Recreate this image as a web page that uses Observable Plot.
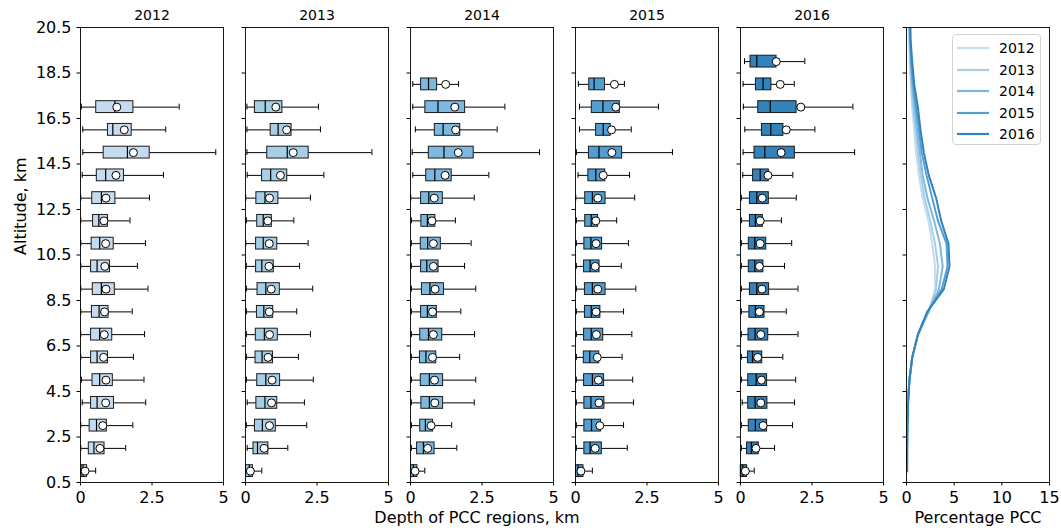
<!DOCTYPE html>
<html>
<head>
<meta charset="utf-8">
<script src="https://cdn.jsdelivr.net/npm/d3@7"></script>
<script src="https://cdn.jsdelivr.net/npm/@observablehq/plot@0.6"></script>
<style>
  body { margin: 0; background: white; }
  #chart { position: relative; width: 1061px; height: 531px; overflow: hidden; font-family: "DejaVu Sans", sans-serif; }
  #chart > svg { position: absolute; top: 0; }
  #legend { position: absolute; left: 952px; top: 34px; width: 89px; height: 111px; border: 1px solid #d3d3d3; border-radius: 4px; background: rgba(255,255,255,0.85); box-sizing: border-box; }
  #legend .row { position: absolute; left: 0; height: 20px; display: flex; align-items: center; }
  #legend .row span { font-size: 14px; margin-left: 10px; color: #000; }
</style>
</head>
<body>
<div id="chart"></div>
<script>
// ---------------- data ----------------
const years = [2012, 2013, 2014, 2015, 2016];
const yearColors = ["#c6dbef", "#a6cee4", "#7db8de", "#519ed2", "#3182bd"];
const altitudeTicks = [0.5, 2.5, 4.5, 6.5, 8.5, 10.5, 12.5, 14.5, 16.5, 18.5, 20.5];
const depthTicks = [0, 2.5, 5];
const percentTicks = [0, 5, 10, 15];

// rows: [altitude, whiskerLow, q1, median, q3, whiskerHigh, mean]
const box2012 = [
  [1, 0.00, 0.04, 0.09, 0.23, 0.53, 0.16],
  [2, 0.01, 0.29, 0.47, 0.84, 1.58, 0.68],
  [3, 0.01, 0.32, 0.56, 0.92, 1.83, 0.78],
  [4, 0.06, 0.37, 0.58, 1.17, 2.28, 0.88],
  [5, 0.03, 0.42, 0.67, 1.13, 2.22, 0.89],
  [6, 0.01, 0.37, 0.58, 0.96, 1.85, 0.81],
  [7, 0.01, 0.37, 0.67, 1.11, 2.24, 0.83],
  [8, 0.01, 0.40, 0.65, 0.98, 1.81, 0.84],
  [9, 0.01, 0.43, 0.73, 1.20, 2.36, 0.89],
  [10, 0.01, 0.37, 0.58, 1.03, 1.99, 0.85],
  [11, 0.01, 0.39, 0.67, 1.16, 2.27, 0.88],
  [12, 0.01, 0.44, 0.64, 0.96, 1.73, 0.82],
  [13, 0.01, 0.41, 0.73, 1.22, 2.41, 0.89],
  [14, 0.06, 0.57, 0.88, 1.52, 2.90, 1.24],
  [15, 0.08, 0.81, 1.64, 2.42, 4.73, 1.85],
  [16, 0.08, 0.96, 1.13, 1.79, 2.98, 1.53],
  [17, 0.03, 0.55, 1.20, 1.85, 3.45, 1.27]
];
const box2013 = [
  [1, 0.01, 0.02, 0.13, 0.26, 0.57, 0.17],
  [2, 0.06, 0.28, 0.42, 0.80, 1.48, 0.65],
  [3, 0.03, 0.33, 0.59, 1.06, 2.14, 0.84],
  [4, 0.06, 0.38, 0.68, 1.11, 2.06, 0.91],
  [5, 0.03, 0.41, 0.71, 1.21, 2.37, 0.93],
  [6, 0.03, 0.35, 0.58, 0.96, 1.85, 0.79],
  [7, 0.03, 0.36, 0.66, 1.13, 2.27, 0.84],
  [8, 0.03, 0.40, 0.64, 0.97, 1.79, 0.83],
  [9, 0.03, 0.42, 0.71, 1.20, 2.35, 0.90],
  [10, 0.03, 0.37, 0.57, 0.99, 1.89, 0.82],
  [11, 0.01, 0.37, 0.62, 1.11, 2.19, 0.83],
  [12, 0.03, 0.41, 0.62, 0.92, 1.69, 0.78],
  [13, 0.01, 0.38, 0.68, 1.15, 2.27, 0.84],
  [14, 0.06, 0.58, 0.88, 1.46, 2.74, 1.22],
  [15, 0.05, 0.76, 1.46, 2.21, 4.42, 1.67],
  [16, 0.05, 0.88, 1.14, 1.61, 2.62, 1.44],
  [17, 0.05, 0.33, 0.69, 1.29, 2.55, 1.06]
];
const box2014 = [
  [1, 0.01, 0.02, 0.10, 0.24, 0.50, 0.16],
  [2, 0.03, 0.23, 0.45, 0.84, 1.62, 0.60],
  [3, 0.03, 0.34, 0.52, 0.79, 1.44, 0.72],
  [4, 0.03, 0.38, 0.66, 1.14, 2.23, 0.85],
  [5, 0.03, 0.36, 0.66, 1.14, 2.28, 0.84],
  [6, 0.03, 0.33, 0.54, 0.90, 1.72, 0.77],
  [7, 0.03, 0.34, 0.63, 1.11, 2.24, 0.80],
  [8, 0.03, 0.37, 0.59, 0.92, 1.76, 0.77],
  [9, 0.03, 0.40, 0.68, 1.17, 2.28, 0.86],
  [10, 0.03, 0.37, 0.57, 0.98, 1.89, 0.80],
  [11, 0.03, 0.36, 0.60, 1.06, 2.12, 0.80],
  [12, 0.03, 0.38, 0.59, 0.87, 1.57, 0.75],
  [13, 0.01, 0.37, 0.64, 1.13, 2.23, 0.83],
  [14, 0.08, 0.55, 0.85, 1.44, 2.74, 1.21],
  [15, 0.06, 0.64, 1.17, 2.21, 4.51, 1.67],
  [16, 0.17, 0.85, 1.14, 1.74, 3.03, 1.58],
  [17, 0.08, 0.52, 0.96, 1.91, 3.30, 1.55],
  [18, 0.08, 0.37, 0.63, 0.93, 1.68, 1.23]
];
const box2015 = [
  [1, 0.01, 0.02, 0.09, 0.28, 0.59, 0.19],
  [2, 0.03, 0.31, 0.51, 0.92, 1.81, 0.69],
  [3, 0.03, 0.31, 0.56, 0.89, 1.68, 0.85],
  [4, 0.03, 0.31, 0.54, 1.01, 2.03, 0.82],
  [5, 0.03, 0.30, 0.59, 1.00, 2.00, 0.80],
  [6, 0.03, 0.29, 0.50, 0.83, 1.63, 0.76],
  [7, 0.03, 0.30, 0.55, 0.97, 1.97, 0.73],
  [8, 0.03, 0.33, 0.55, 0.87, 1.68, 0.72],
  [9, 0.03, 0.33, 0.59, 1.05, 2.11, 0.78],
  [10, 0.03, 0.30, 0.51, 0.84, 1.60, 0.69],
  [11, 0.03, 0.31, 0.54, 0.93, 1.85, 0.72],
  [12, 0.03, 0.34, 0.55, 0.79, 1.44, 0.71],
  [13, 0.01, 0.34, 0.59, 1.05, 2.07, 0.78],
  [14, 0.09, 0.45, 0.71, 1.04, 1.89, 0.97],
  [15, 0.03, 0.47, 0.82, 1.63, 3.39, 1.27],
  [16, 0.14, 0.72, 0.97, 1.23, 1.95, 1.26],
  [17, 0.14, 0.57, 0.96, 1.55, 2.90, 1.41],
  [18, 0.10, 0.48, 0.65, 1.03, 1.71, 1.36]
];
const box2016 = [
  [1, 0.01, 0.01, 0.08, 0.23, 0.48, 0.17],
  [2, 0.03, 0.23, 0.38, 0.64, 1.19, 0.54],
  [3, 0.03, 0.29, 0.52, 0.93, 1.82, 0.79],
  [4, 0.06, 0.27, 0.51, 0.94, 1.89, 0.71],
  [5, 0.03, 0.27, 0.55, 0.93, 1.93, 0.73],
  [6, 0.03, 0.26, 0.42, 0.76, 1.48, 0.60],
  [7, 0.03, 0.28, 0.51, 0.97, 2.01, 0.71],
  [8, 0.03, 0.31, 0.52, 0.84, 1.60, 0.66],
  [9, 0.03, 0.33, 0.57, 1.00, 2.01, 0.75],
  [10, 0.03, 0.29, 0.50, 0.80, 1.54, 0.66],
  [11, 0.03, 0.29, 0.50, 0.90, 1.79, 0.69],
  [12, 0.03, 0.33, 0.52, 0.78, 1.43, 0.69],
  [13, 0.03, 0.33, 0.57, 0.99, 1.95, 0.76],
  [14, 0.08, 0.44, 0.69, 0.99, 1.83, 0.96],
  [15, 0.09, 0.49, 0.85, 1.90, 3.99, 1.42],
  [16, 0.15, 0.75, 1.06, 1.50, 2.60, 1.60],
  [17, 0.10, 0.62, 1.04, 1.96, 3.93, 2.11],
  [18, 0.09, 0.54, 0.79, 1.08, 1.88, 1.39],
  [19, 0.14, 0.35, 0.57, 1.26, 2.25, 1.25]
];

// percentage PCC profiles at altitudes 1..21 km
const profileAltitudes = [1, 2, 3, 4, 5, 6, 7, 8, 9, 10, 11, 12, 13, 14, 15, 16, 17, 18, 19, 20, 21];
const pct2012 = [0.05, 0.06, 0.08, 0.15, 0.30, 0.60, 1.20, 2.30, 3.00, 3.00, 2.70, 2.30, 1.70, 1.30, 1.00, 0.80, 0.60, 0.45, 0.35, 0.30, 0.25];
const pct2013 = [0.05, 0.06, 0.08, 0.15, 0.30, 0.60, 1.20, 2.35, 3.10, 3.30, 3.00, 2.50, 1.90, 1.50, 1.20, 0.95, 0.70, 0.50, 0.40, 0.30, 0.25];
const pct2014 = [0.05, 0.06, 0.08, 0.15, 0.30, 0.60, 1.20, 2.30, 3.40, 3.80, 3.50, 2.90, 2.20, 1.70, 1.40, 1.10, 0.85, 0.60, 0.45, 0.35, 0.30];
const pct2015 = [0.06, 0.07, 0.09, 0.16, 0.31, 0.60, 1.20, 2.20, 3.70, 4.30, 4.20, 3.30, 2.70, 2.10, 1.60, 1.30, 1.00, 0.70, 0.50, 0.40, 0.35];
const pct2016 = [0.07, 0.07, 0.10, 0.17, 0.31, 0.60, 1.19, 2.17, 3.92, 4.51, 4.40, 3.64, 3.11, 2.34, 1.82, 1.47, 1.19, 0.81, 0.60, 0.42, 0.40];

// ---------------- layout ----------------
const chart = document.getElementById("chart");
const FRAME_W = 143, MT = 27, MB = 49, H = 531;
const baseStyle = { fontFamily: "DejaVu Sans", fontSize: "16px", color: "black", background: "transparent", overflow: "visible" };
const boxSets = [box2012, box2013, box2014, box2015, box2016];

boxSets.forEach((rows, i) => {
  const data = rows.map(([alt, lo, q1, med, q3, hi, mean]) => ({ alt, lo, q1, med, q3, hi, mean }));
  const first = i === 0;
  const mL = first ? 80 : 12, mR = 12;
  const extra = [];
  if (first) {
    extra.push(Plot.text(["Altitude, km"], { frameAnchor: "left", dx: -60, rotate: -90, fontSize: 16, text: d => d }));
  }
  if (i === 2) {
    extra.push(Plot.text(["Depth of PCC regions, km"], { frameAnchor: "bottom", lineAnchor: "middle", dy: 35, dx: -5, fontSize: 16, text: d => d }));
  }
  const svg = Plot.plot({
    width: mL + FRAME_W + mR, height: H,
    marginLeft: mL, marginRight: mR, marginTop: MT, marginBottom: MB,
    style: baseStyle,
    x: { domain: [0, 5], ticks: depthTicks, tickFormat: d => String(d), tickSize: 3.5, tickPadding: 6, label: null },
    y: { domain: [0.5, 20.5], ticks: altitudeTicks, tickFormat: first ? (d => d.toFixed(1)) : (() => ""), tickSize: 3.5, tickPadding: 5.5, label: null },
    marks: [
      Plot.ruleY(data, { y: "alt", x1: "lo", x2: "q1", stroke: "black", strokeWidth: 1 }),
      Plot.ruleY(data, { y: "alt", x1: "q3", x2: "hi", stroke: "black", strokeWidth: 1 }),
      Plot.ruleX(data, { x: "lo", y1: d => d.alt - 0.13, y2: d => d.alt + 0.13, stroke: "black", strokeWidth: 1 }),
      Plot.ruleX(data, { x: "hi", y1: d => d.alt - 0.13, y2: d => d.alt + 0.13, stroke: "black", strokeWidth: 1 }),
      Plot.rect(data, { x1: "q1", x2: "q3", y1: d => d.alt - 0.26, y2: d => d.alt + 0.26, fill: yearColors[i], stroke: "#1a1a1a", strokeWidth: 1 }),
      Plot.ruleX(data, { x: "med", y1: d => d.alt - 0.26, y2: d => d.alt + 0.26, stroke: "black", strokeWidth: 1.2 }),
      Plot.dot(data, { x: "mean", y: "alt", r: 4, fill: "white", stroke: "black", strokeWidth: 1 }),
      Plot.frame({ stroke: "black", strokeWidth: 0.9 }),
      Plot.text([years[i]], { frameAnchor: "top", lineAnchor: "middle", dy: -12, fontSize: 14, text: d => String(d) }),
      ...extra
    ]
  });
  svg.style.left = (80 + 165 * i - mL) + "px";
  chart.appendChild(svg);
});

// profile panel
const pctSets = [pct2012, pct2013, pct2014, pct2015, pct2016];
const profile = [];
pctSets.forEach((arr, i) => arr.forEach((v, k) => profile.push({ year: years[i], alt: profileAltitudes[k], pct: v })));

const mL6 = 12, mR6 = 12;
const svg6 = Plot.plot({
  width: mL6 + FRAME_W + mR6, height: H,
  marginLeft: mL6, marginRight: mR6, marginTop: MT, marginBottom: MB,
  style: baseStyle,
  x: { domain: [0, 15], ticks: percentTicks, tickFormat: d => String(d), tickSize: 3.5, tickPadding: 6, label: null },
  y: { domain: [0.5, 20.5], ticks: altitudeTicks, tickFormat: () => "", tickSize: 3.5, label: null },
  color: { domain: years, range: yearColors },
  marks: [
    Plot.line(profile, { x: "pct", y: "alt", z: "year", stroke: "year", strokeWidth: 2, clip: true }),
    Plot.frame({ stroke: "black", strokeWidth: 0.9 }),
    Plot.text(["Percentage PCC"], { frameAnchor: "bottom", lineAnchor: "middle", dy: 35, fontSize: 16, text: d => d })
  ]
});
svg6.style.left = (906 - mL6) + "px";
chart.appendChild(svg6);

// legend
const legend = d3.select(chart).append("div").attr("id", "legend");
years.forEach((y, i) => {
  const row = legend.append("div").attr("class", "row").style("top", (3 + i * 21.6) + "px").style("left", "4px");
  const sw = row.append("svg").attr("width", 32).attr("height", 20);
  sw.append("line").attr("x1", 0).attr("x2", 32).attr("y1", 10).attr("y2", 10)
    .attr("stroke", yearColors[i]).attr("stroke-width", 2.2);
  row.append("span").text(String(y));
});
</script>
</body>
</html>
